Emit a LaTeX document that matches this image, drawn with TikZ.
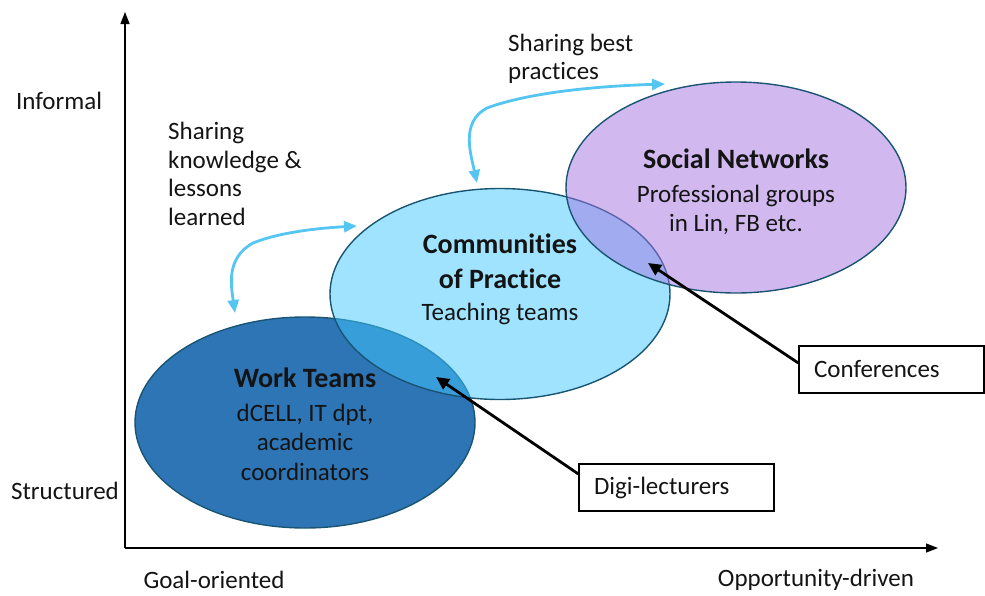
\documentclass[tikz,border=0pt]{standalone}
\usepackage{fontspec}
\setmainfont{Carlito}[Ligatures=NoCommon]
\usetikzlibrary{arrows.meta,shapes.geometric}
\definecolor{wtfill}{RGB}{46,117,182}
\definecolor{copfill}{RGB}{64,200,255}
\definecolor{snfill}{RGB}{163,115,225}
\definecolor{edgec}{RGB}{25,85,115}
\definecolor{flowc}{RGB}{85,197,242}
\definecolor{txt}{RGB}{20,20,20}
\tikzset{
  blob/.style={ellipse, draw=edgec, line width=1.4pt, inner sep=0pt,
               minimum width=340pt, minimum height=211pt},
  title/.style={font=\fontsize{28}{35.5}\selectfont\bfseries, text=txt, align=center, inner sep=0pt},
  body/.style={font=\fontsize{25}{29.5}\selectfont, text=txt, align=center, inner sep=0pt},
  lbl/.style={font=\fontsize{25}{28.5}\selectfont, text=txt, align=left, inner sep=0pt},
  tag/.style={draw=black, line width=1.3pt, font=\fontsize{25}{29}\selectfont, text=txt,
              align=left, inner xsep=15pt, inner ysep=0pt, minimum height=47pt},
  axis/.style={line width=1.3pt, -{Triangle[length=12pt,width=9pt]}},
  pointer/.style={line width=2.8pt, -{Triangle[length=13pt,width=12pt]}},
  flow/.style={draw=flowc, line width=2.8pt, {Triangle[length=13pt,width=11pt]}-{Triangle[length=13pt,width=11pt]}}
}
\begin{document}
\begin{tikzpicture}[x=1pt,y=-1pt]
\useasboundingbox (0,0) rectangle (985,595);
% axes
\coordinate (o) at (125,548);
\coordinate (ytop) at (125,12);
\coordinate (xend) at (938,548);
\draw[axis] (o) -- (ytop);
\draw[axis] (o) -- (xend);
\node[lbl] (informal) at (59,101) {Informal};
\node[lbl] (structured) at (65,491) {Structured};
\node[lbl] (goal) at (214,580) {Goal-oriented};
\node[lbl] (opp) at (816,580) {Opportunity-driven};
% ellipses
\node[blob, fill=wtfill] (wt) at (305,422.5) {};
\node[blob, fill=copfill, fill opacity=0.5] (cop) at (500,294) {};
\node[blob, fill=snfill, fill opacity=0.5] (sn) at (736,187.5) {};
% ellipse texts
\node[title] (wtt) at (305,378) {Work Teams};
\node[body] (wtb) at (305,442) {dCELL, IT dpt,\\academic\\coordinators};
\node[title] (copt) at (500,261.5) {Communities\\of Practice};
\node[body] (copb) at (500,314) {Teaching teams};
\node[title] (snt) at (736,159) {Social Networks};
\node[body] (snb) at (736,210) {Professional groups\\in Lin, FB etc.};
% flow labels
\node[lbl, anchor=west] (lessons) at (168,174) {Sharing\\knowledge \&\\lessons\\learned};
\node[lbl, anchor=west] (best) at (508,59) {Sharing best\\practices};
% flow arrows
\coordinate (f1a) at (235,313);
\coordinate (f1b) at (357,226);
\coordinate (f2a) at (477,183);
\coordinate (f2b) at (665,84);
\draw[flow] (f1a) .. controls (231,285) and (226,258) .. (253,243) .. controls (280,232) and (320,228) .. (f1b);
\draw[flow] (f2a) .. controls (471,155) and (460,122) .. (487,108) .. controls (530,92) and (600,86) .. (f2b);
% tags
\node[tag, text width=155pt] (conf) at (891.5,369.5) {Conferences};
\node[tag, text width=165pt] (digi) at (676.5,487.5) {Digi-lecturers};
\coordinate (confTip) at (648,263);
\coordinate (digiTip) at (436,377);
\draw[pointer] ([yshift=6.5pt]conf.west) -- (confTip);
\draw[pointer] ([yshift=13.5pt]digi.west) -- (digiTip);
\end{tikzpicture}
\end{document}
